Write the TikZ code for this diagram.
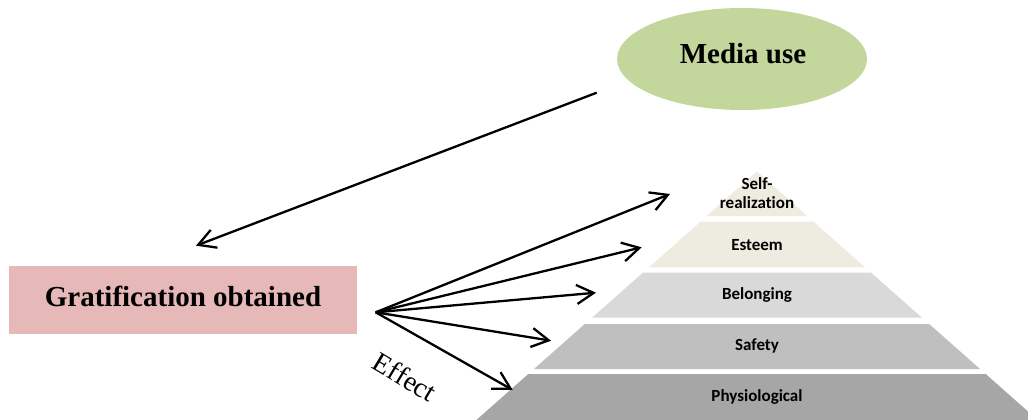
\documentclass[tikz,border=0pt]{standalone}
\usepackage{fontspec}
\setmainfont{Liberation Serif}
\newfontfamily\calib[Ligatures=CommonOff]{Carlito}
\usetikzlibrary{arrows.meta,shapes.geometric}
\definecolor{medgreen}{HTML}{C3D69B}
\definecolor{gratpink}{HTML}{E6B9B8}
\definecolor{tanlayer}{HTML}{EEECE1}
\definecolor{grayA}{HTML}{D9D9D9}
\definecolor{grayB}{HTML}{BFBFBF}
\definecolor{grayC}{HTML}{A6A6A6}
\tikzset{
  arr/.style={line width=2.3pt,-{Straight Barb[length=17pt,width=19pt,line width=2.3pt]}},
  lvl/.style={font=\calib\fontsize{17}{19}\selectfont\bfseries,align=center,inner sep=0pt},
  bigtxt/.style={font=\fontsize{29}{33}\selectfont\bfseries,inner sep=0pt}
}
\begin{document}
\begin{tikzpicture}[x=1pt,y=-1pt]
\useasboundingbox (0,0) rectangle (1028,420);
\clip (0,0) rectangle (1028,420);
% pyramid layers
\fill[tanlayer] (757,171.5) -- (807.3,216) -- (706.7,216) -- cycle;
\fill[tanlayer] (700.5,221.7) -- (813.5,221.7) -- (865,267.3) -- (649,267.3) -- cycle;
\fill[grayA] (642.9,272.7) -- (871.1,272.7) -- (922,317.7) -- (592,317.7) -- cycle;
\fill[grayB] (584.8,324) -- (929.2,324) -- (980,369) -- (534,369) -- cycle;
\fill[grayC] (528.3,374) -- (985.7,374) -- (1045,426.5) -- (469,426.5) -- cycle;
\node[lvl] (self) at (757,193) {Self-\\[0pt]realization};
\node[lvl] (esteem) at (757,245) {Esteem};
\node[lvl] (belong) at (757,295) {Belonging};
\node[lvl] (safety) at (757,345.5) {Safety};
\node[lvl] (physio) at (757,396.5) {Physiological};
% media use
\node[ellipse,fill=medgreen,minimum width=250pt,minimum height=102pt,inner sep=0pt] (media) at (742,59) {};
\node[bigtxt] (medtxt) at (743,54) {Media use};
% gratification
\node[fill=gratpink,minimum width=348pt,minimum height=68pt,inner sep=0pt] (grat) at (183,300) {};
\node[bigtxt] (grattxt) at (183,296) {Gratification obtained};
% coordinates
\coordinate (mstart) at (596.7,92.7);
\coordinate (mend) at (196,245.7);
\coordinate (src) at (375.7,312.3);
\coordinate (t1) at (670,194);
\coordinate (t2) at (641.7,247.3);
\coordinate (t3) at (596,292.7);
\coordinate (t4) at (551,340.7);
\coordinate (t5) at (512.7,390);
\draw[arr] (mstart) -- (mend);
\draw[arr] (src) -- (t1);
\draw[arr] (src) -- (t2);
\draw[arr] (src) -- (t3);
\draw[arr] (src) -- (t4);
\draw[arr] (src) -- (t5);
\node[font=\fontsize{28}{32}\selectfont,rotate=-31,inner sep=0pt] (effect) at (405,377) {Effect};
\end{tikzpicture}
\end{document}
